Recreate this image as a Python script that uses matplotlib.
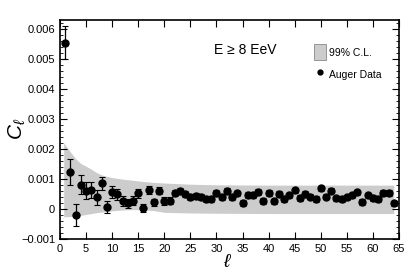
import matplotlib
matplotlib.use("Agg")
import matplotlib.pyplot as plt
from matplotlib.ticker import MultipleLocator, FuncFormatter
from matplotlib.patches import Patch
from matplotlib.lines import Line2D
import numpy as np

plt.rcParams['font.family'] = ['Liberation Sans', 'DejaVu Sans']
plt.rcParams['mathtext.fontset'] = 'custom'
plt.rcParams['mathtext.it'] = 'Liberation Sans:italic'

# multipole index and measured angular power
ell = np.arange(1, 65)
cl = [0.00555, 0.00124, -0.00019, 0.00082, 0.00062, 0.00064, 0.00039, 0.00086, 0.00007, 0.00058,
      0.00049, 0.00028, 0.00019, 0.00027, 0.00052, 0.00004, 0.00063, 0.00022, 0.00061, 0.00027,
      0.00028, 0.00053, 0.00060, 0.00049, 0.00041, 0.00043, 0.00039, 0.00034, 0.00034, 0.00054,
      0.00039, 0.00060, 0.00041, 0.00052, 0.00021, 0.00048, 0.00046, 0.00057, 0.00026, 0.00054,
      0.00026, 0.00050, 0.00034, 0.00046, 0.00063, 0.00037, 0.00050, 0.00041, 0.00034, 0.00069,
      0.00041, 0.00061, 0.00036, 0.00033, 0.00039, 0.00046, 0.00056, 0.00024, 0.00046, 0.00037,
      0.00034, 0.00054, 0.00054, 0.00019]
cl_err = [0.00055, 0.00043, 0.00036, 0.00032, 0.00030, 0.00028, 0.00025, 0.00022, 0.00021, 0.00020,
          0.00018, 0.00017, 0.00016, 0.00015, 0.00014, 0.00014, 0.00013, 0.00013, 0.00012, 0.00012,
          0.00011, 0.00011, 0.00010, 0.00010, 0.00010, 0.00010, 0.00010, 0.00010, 0.00010, 0.00010,
          0.00010, 0.00010, 0.00010, 0.00010, 0.00010, 0.00010, 0.00010, 0.00010, 0.00010, 0.00010,
          0.00009, 0.00009, 0.00009, 0.00009, 0.00009, 0.00009, 0.00009, 0.00009, 0.00009, 0.00009,
          0.00009, 0.00009, 0.00009, 0.00009, 0.00009, 0.00009, 0.00009, 0.00009, 0.00009, 0.00009,
          0.00009, 0.00009, 0.00009, 0.00009]

# 99% C.L. band of isotropy
band_ell = [0.7, 2, 3, 4, 5, 6, 7, 8, 9, 10, 12, 14, 16, 18, 20, 25, 30, 40, 50, 64]
band_lo = [-0.00026, -0.00025, -0.00023, -0.00021, -0.00018, -0.00015, -0.00012, -0.00010, -0.00008, -0.00006,
           -0.00003, -0.00002, -0.00002, -0.00005, -0.00011, -0.00013, -0.00014, -0.00015, -0.00015, -0.00015]
band_hi = [0.00222, 0.00190, 0.00168, 0.00152, 0.00143, 0.00133, 0.00122, 0.00114, 0.00109, 0.00105,
           0.00100, 0.00096, 0.00092, 0.00089, 0.00087, 0.00083, 0.00081, 0.00080, 0.00080, 0.00080]

fig = plt.figure(figsize=(4.2, 2.73), dpi=100)
ax = fig.add_axes([0.143, 0.1245, 0.807, 0.804])

ax.fill_between(band_ell, band_lo, band_hi, color='#cccccc', lw=0, zorder=1)
ax.errorbar(ell, cl, yerr=cl_err, fmt='o', color='black', ms=5, elinewidth=0.9,
            capsize=2, capthick=0.8, zorder=3)

ax.set_xlim(0, 65)
ax.set_ylim(-0.001, 0.00633)
ax.xaxis.set_major_locator(MultipleLocator(5))
ax.yaxis.set_major_locator(MultipleLocator(0.001))
ax.yaxis.set_minor_locator(MultipleLocator(0.0002))
ax.yaxis.set_major_formatter(FuncFormatter(
    lambda v, p: '0' if abs(v) < 1e-9 else ('%.3f' % v).replace('-', '\u2212')))
ax.tick_params(axis='both', which='both', direction='in', top=True, right=True, labelsize=8)
ax.tick_params(which='major', length=5, width=0.8)
ax.tick_params(which='minor', length=2.5, width=0.6)
for s in ax.spines.values():
    s.set_linewidth(1.2)

ax.set_xlabel(r'$\ell$', fontsize=14)
ax.xaxis.set_label_coords(0.495, -0.07)
ax.set_ylabel(r'$C_\ell$', fontsize=15)
ax.yaxis.set_label_coords(-0.095, 0.5)

ax.text(29.5, 0.0053, 'E \u2265 8 EeV', fontsize=10, va='center')

handles = [Patch(facecolor='#cccccc', edgecolor='#888888', lw=0.6),
           Line2D([], [], marker='o', color='black', ls='none', ms=3.5)]
ax.legend(handles, ['99% C.L.', 'Auger Data'], loc='upper right', frameon=False,
          fontsize=7.5, handlelength=1.2, handleheight=2.0, handletextpad=0.25,
          labelspacing=0.6, bbox_to_anchor=(0.975, 0.93))

fig.savefig('out.png', dpi=100)
